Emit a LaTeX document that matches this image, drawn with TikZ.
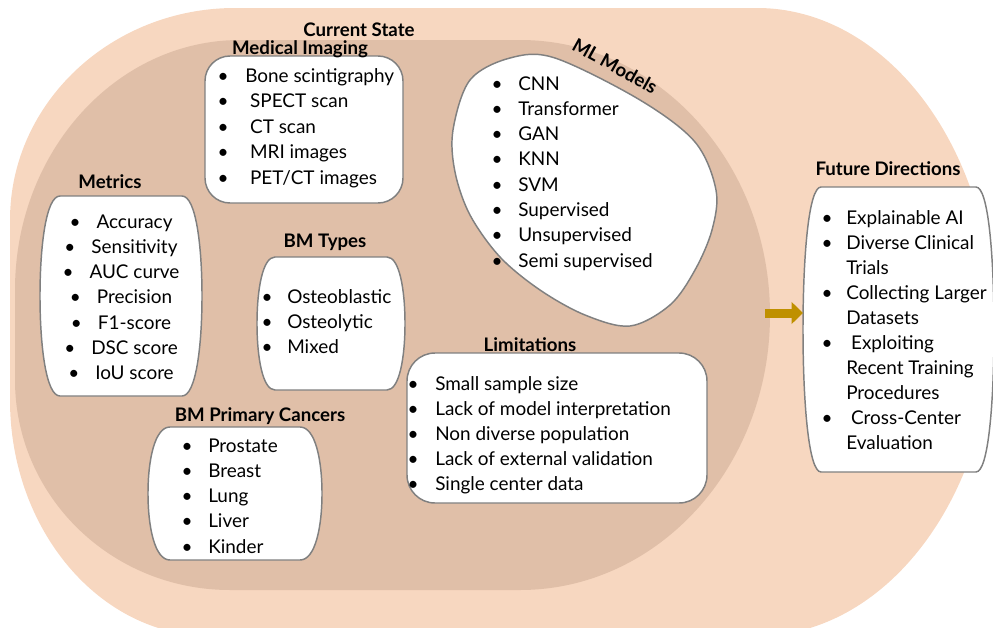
\documentclass[tikz,border=0pt]{standalone}
\usepackage{fontspec}
\setmainfont{Lato}
\usepackage{tikz}
\usetikzlibrary{arrows.meta}
\tikzset{>={Triangle[length=8.5pt,width=16pt]}}
\definecolor{peachbg}{RGB}{247,215,192}
\definecolor{tanbg}{RGB}{224,191,168}
\definecolor{edgegray}{RGB}{128,128,128}
\definecolor{arrowgold}{RGB}{191,144,0}

% left, top, right, bottom, inset of the corners
\newcommand{\barrel}[5]{%
  \draw[boxline] ({#1+#5},#2) -- ({#3-#5},#2)
    .. controls ({#3-0.3*#5},#2) and (#3,{#2+0.25*(#4-#2)}) .. (#3,{0.5*(#2+#4)})
    .. controls (#3,{#4-0.25*(#4-#2)}) and ({#3-0.3*#5},#4) .. ({#3-#5},#4)
    -- ({#1+#5},#4)
    .. controls ({#1+0.3*#5},#4) and (#1,{#4-0.25*(#4-#2)}) .. (#1,{0.5*(#2+#4)})
    .. controls (#1,{#2+0.25*(#4-#2)}) and ({#1+0.3*#5},#2) .. cycle;}

\begin{document}
\begin{tikzpicture}[
    x = 0.75pt, y = -0.75pt,
    boxline/.style = {draw=edgegray, line width=1.1pt, fill=white},
    title/.style = {font=\fontsize{14}{16}\selectfont\bfseries, inner sep=0pt},
    item/.style = {font=\fontsize{14.2}{18}\selectfont, anchor=west,
        inner sep=0pt, text height=1.5ex, text depth=.3ex},
    dot/.style = {item, anchor=center}
  ]
  \useasboundingbox (0,0) rectangle (993,628);
  \clip (0,0) rectangle (993,628);

  % current state and future directions background
  \fill[peachbg] (10,220) .. controls (10,103) and (111,8) .. (235,8) -- (757,8)
    .. controls (887,8) and (993,149) .. (993,322)
    .. controls (993,495) and (887,636) .. (757,636) -- (210,636)
    .. controls (100,636) and (10,530) .. (10,400) -- cycle;
  \fill[tanbg] (15,290) .. controls (15,152) and (116,40) .. (240,40) -- (520,40)
    .. controls (658,40) and (770,163) .. (770,315)
    .. controls (770,467) and (658,590) .. (520,590) -- (230,590)
    .. controls (111,590) and (15,496) .. (15,380) -- cycle;

  % boxes
  \draw[boxline, rounded corners=18.75pt] (205,56) rectangle (403,203);
  \draw[boxline, rounded corners=21pt] (407,353) rectangle (707,503);
  \barrel{40}{196}{202}{396}{20}
  \barrel{257}{257}{405}{390}{18}
  \barrel{148}{427}{322}{560}{22}
  \barrel{803}{187}{994}{472}{18}
  \draw[boxline] plot[smooth cycle, tension=0.55] coordinates {
    (453,130) (470,80) (510,58) (555,58) (640,100) (695,142) (716,190) (712,230)
    (695,270) (670,305) (630,326) (585,315) (540,290) (500,257) (470,215) (455,172)};

  \node[title] (cur) at (359,30) {Current State};
  \node[title] (medt) at (300,49) {Medical Imaging};
  \node[title] (mett) at (110,182) {Metrics};
  \node[title] (bmt) at (325,242) {BM Types};
  \node[title] (prit) at (260,416) {BM Primary Cancers};
  \node[title] (limt) at (530,345) {Limitations};
  \node[title, rotate=-29] (mlt) at (615,66) {ML Models};
  \node[title] (fdt) at (888,169) {Future Directions};

  \foreach \t [count=\i] in {Bone scintigraphy,\ SPECT scan,\ CT scan,\ MRI images,\ PET/CT images}{
    \node[dot] (medb\i) at (223,{78+25.5*(\i-1)}) {\textbullet};
    \node[item] (med\i) at (245,{78+25.5*(\i-1)}) {\t};
  }
  \foreach \t [count=\i] in {Accuracy,Sensitivity,AUC curve,Precision,F1-score,DSC score,IoU score}
    \node[dot] (met\i) at (121,{224+25.3*(\i-1)}) {\textbullet\hspace{12pt}\t};
  \foreach \t [count=\i] in {Osteoblastic,Osteolytic,Mixed}{
    \node[dot] (bmb\i) at (267,{299+25*(\i-1)}) {\textbullet};
    \node[item] (bm\i) at (287,{299+25*(\i-1)}) {\t};
  }
  \foreach \t [count=\i] in {Prostate,Breast,Lung,Liver,Kinder}{
    \node[dot] (prib\i) at (187,{448+25.3*(\i-1)}) {\textbullet};
    \node[item] (pri\i) at (208,{448+25.3*(\i-1)}) {\t};
  }
  \foreach \t [count=\i] in {Small sample size,Lack of model interpretation,Non diverse population,Lack of external validation,Single center data}{
    \node[dot] (limb\i) at (413,{386+25.2*(\i-1)}) {\textbullet};
    \node[item] (lim\i) at (435,{386+25.2*(\i-1)}) {\t};
  }
  \foreach \t [count=\i] in {CNN,Transformer,GAN,KNN,SVM,Supervised,Unsupervised,Semi supervised}{
    \node[dot] (mlb\i) at (497,{86+25.3*(\i-1)}) {\textbullet};
    \node[item] (ml\i) at (518,{86+25.3*(\i-1)}) {\t};
  }
  \foreach \b/\t [count=\i] in {1/Explainable AI,1/Diverse Clinical,0/Trials,1/Collecting Larger,0/Datasets,1/\ Exploiting,0/Recent Training,0/Procedures,1/\ Cross-Center,0/Evaluation}{
    \node[item] (fd\i) at (846,{220+25.1*(\i-1)}) {\t};
    \ifnum\b=1 \node[dot] (fdb\i) at (827,{220+25.1*(\i-1)}) {\textbullet}; \fi
  }

  \coordinate (arrS) at (765,313);
  \coordinate (fdw) at (803,313);
  \draw[arrowgold, line width=6.75pt, ->] (arrS) -- (fdw);
\end{tikzpicture}
\end{document}
